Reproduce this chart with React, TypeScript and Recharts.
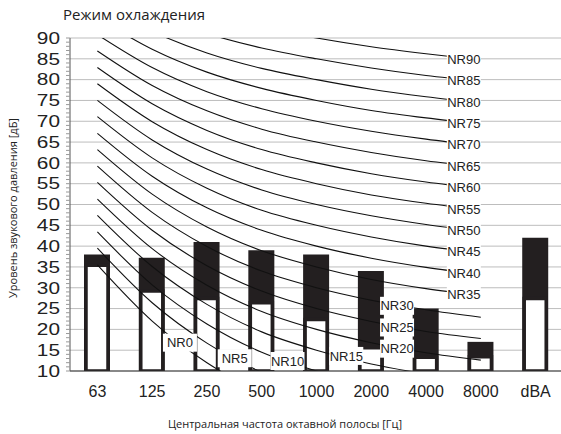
import React from "react";
import { ComposedChart, Bar, Line, XAxis, YAxis, CartesianGrid } from "recharts";

const categories = ["63", "125", "250", "500", "1000", "2000", "4000", "8000", "dBA"];
const totalLevel = [38, 37.2, 41, 39, 38, 34, 25, 17, 42];
const innerLevel = [35.4, 29.2, 27.4, 26.4, 22.4, 15.6, 13.3, 13.4, 27.4];

// NR curves, 63 Hz .. 8000 Hz
const nr0 = [35.5, 22.0, 12.0, 4.8, 0, -3.5, -6.1, -8.0];
const nr5 = [39.5, 26.4, 16.7, 9.7, 5, 1.6, -1.0, -2.9];
const nr10 = [43.4, 30.7, 21.3, 14.5, 10, 6.7, 4.2, 2.3];
const nr15 = [47.4, 35.1, 26.0, 19.4, 15, 11.7, 9.3, 7.5];
const nr20 = [51.3, 39.4, 30.6, 24.3, 20, 16.8, 14.4, 12.6];
const nr25 = [55.3, 43.8, 35.3, 29.2, 25, 21.9, 19.5, 17.8];
const nr30 = [59.2, 48.1, 39.9, 34.0, 30, 27.0, 24.7, 22.9];
const nr35 = [63.2, 52.5, 44.6, 38.9, 35, 32.0, 29.8, 28.1];
const nr40 = [67.1, 56.8, 49.2, 43.8, 40, 37.1, 34.9, 33.2];
const nr45 = [71.1, 61.2, 53.9, 48.6, 45, 42.2, 40.0, 38.4];
const nr50 = [75.0, 65.5, 58.5, 53.5, 50, 47.3, 45.2, 43.5];
const nr55 = [79.0, 69.9, 63.2, 58.4, 55, 52.3, 50.3, 48.7];
const nr60 = [82.9, 74.2, 67.8, 63.2, 60, 57.4, 55.4, 53.8];
const nr65 = [86.9, 78.6, 72.5, 68.1, 65, 62.5, 60.5, 59.0];
const nr70 = [90.8, 82.9, 77.1, 73.0, 70, 67.6, 65.7, 64.1];
const nr75 = [94.8, 87.3, 81.8, 77.9, 75, 72.6, 70.8, 69.3];
const nr80 = [98.7, 91.6, 86.4, 82.7, 80, 77.7, 75.9, 74.4];
const nr85 = [102.7, 96.0, 91.1, 87.6, 85, 82.8, 81.0, 79.6];
const nr90 = [106.6, 100.3, 95.7, 92.5, 90, 87.9, 86.2, 84.7];

const nrNames = ["NR0", "NR5", "NR10", "NR15", "NR20", "NR25", "NR30", "NR35", "NR40", "NR45",
  "NR50", "NR55", "NR60", "NR65", "NR70", "NR75", "NR80", "NR85", "NR90"];
const nrValues = [nr0, nr5, nr10, nr15, nr20, nr25, nr30, nr35, nr40, nr45,
  nr50, nr55, nr60, nr65, nr70, nr75, nr80, nr85, nr90];
// which frequency each curve's label sits at
const nrLabelAt = ["250", "500", "1000", "2000", "4000", "4000", "4000", "8000", "8000", "8000",
  "8000", "8000", "8000", "8000", "8000", "8000", "8000", "8000", "8000"];

const majorTicks = [10, 15, 20, 25, 30, 35, 40, 45, 50, 55, 60, 65, 70, 75, 80, 85, 90];
const minorTicks = Array.from({ length: 81 }, (_, i) => 10 + i);

const data = categories.map((cat, i) => {
  const row: Record<string, any> = { cat, total: totalLevel[i], inner: innerLevel[i] };
  nrNames.forEach((n, k) => {
    row[n] = i < nrValues[k].length ? nrValues[k][i] : null;
  });
  return row;
});

const INK = "#231f20";
const ARIAL = "'Liberation Sans', Arial, sans-serif";
const SANS = "'Open Sans', 'Noto Sans', sans-serif";

// label offset from the anchor point, by anchor frequency
const labelOffset: Record<string, [number, number]> = {
  "250": [-27, -20],
  "500": [-27, -14],
  "1000": [-29, -10],
  "2000": [-25, -8],
  "4000": [-29, -4],
  "8000": [-17, -1],
};

function labelDot(name: string, at: string) {
  return (p: any) => {
    const { cx, cy, index, payload } = p;
    const key = `${name}-lbl-${index}`;
    if (!payload || payload.cat !== at || cx == null || cy == null) return <g key={key} />;
    const [ox, oy] = labelOffset[at];
    const bx = cx + ox;
    const by = cy + oy;
    return (
      <g key={key}>
        <rect x={bx - 17} y={by - 9} width={34} height={18} fill="#fff" />
        <text x={bx} y={by} dy="0.36em" textAnchor="middle" fontSize={13} fontFamily={ARIAL} fill="#222">
          {name}
        </text>
      </g>
    );
  };
}

function LeftTick(p: any) {
  const v = p.payload?.value;
  if (v % 5 !== 0) return <g />;
  // the source draws these digits a bit wide
  return (
    <text
      transform={`translate(${p.x},${p.y}) scale(1.3,1)`}
      dy="0.36em"
      textAnchor="end"
      fontSize={16}
      fontFamily={ARIAL}
      fill="#222"
    >
      {v}
    </text>
  );
}

function BottomTick(p: any) {
  return (
    <text x={p.x} y={p.y + 26} textAnchor="middle" fontSize={16} fontFamily={ARIAL} fill="#222">
      {p.payload?.value}
    </text>
  );
}

export default function App() {
  return (
    <div style={{ position: "relative", width: 561, height: 434, overflow: "hidden" }}>
      <style>{"body{margin:0;overflow:hidden}"}</style>
      <ComposedChart width={563} height={434} data={data} margin={{ top: 38, right: 0, bottom: 0, left: 0 }}>
        <CartesianGrid yAxisId="y" vertical={false} horizontalValues={majorTicks} stroke="#bdbdbd" />
        <XAxis
          xAxisId="x"
          dataKey="cat"
          height={63}
          tickSize={0}
          tickMargin={0}
          tickLine={false}
          axisLine={{ stroke: "#333" }}
          tick={<BottomTick />}
          interval={0}
        />
        <XAxis xAxisId="xb" dataKey="cat" hide />
        <YAxis
          yAxisId="y"
          type="number"
          domain={[10, 90]}
          allowDataOverflow
          ticks={minorTicks}
          interval={0}
          width={70}
          tickSize={4}
          tickMargin={6}
          tickLine={{ stroke: "#999" }}
          axisLine={{ stroke: "#555" }}
          tick={<LeftTick />}
        />
        <YAxis
          yAxisId="r"
          orientation="right"
          mirror
          type="number"
          domain={[10, 90]}
          allowDataOverflow
          ticks={minorTicks}
          interval={0}
          width={1}
          tickSize={3}
          tick={false}
          tickLine={{ stroke: "#c4c4c4" }}
          axisLine={false}
        />
        <Bar xAxisId="xb" yAxisId="y" dataKey="total" fill={INK} barSize={26} isAnimationActive={false} />
        <Bar
          xAxisId="x"
          yAxisId="y"
          dataKey="inner"
          fill="#fff"
          stroke={INK}
          strokeWidth={3.5}
          barSize={22}
          isAnimationActive={false}
        />
        {nrNames.map((n) => (
          <Line
            key={n}
            xAxisId="x"
            yAxisId="y"
            type="monotone"
            dataKey={n}
            stroke="#111"
            strokeWidth={1.1}
            dot={false}
            activeDot={false}
            isAnimationActive={false}
          />
        ))}
        {nrNames.map((n, k) => (
          <Line
            key={`${n}-label`}
            xAxisId="x"
            yAxisId="y"
            type="monotone"
            dataKey={n}
            stroke="none"
            strokeWidth={0}
            dot={labelDot(n, nrLabelAt[k])}
            activeDot={false}
            legendType="none"
            isAnimationActive={false}
          />
        ))}
      </ComposedChart>
      <svg width={561} height={434} style={{ position: "absolute", left: 0, top: 0, pointerEvents: "none" }}>
        <text x={63} y={20} fontSize={15} fontFamily={SANS} fill="#222">
          Режим охлаждения
        </text>
        <text transform="translate(17,208) rotate(-90)" textAnchor="middle" fontSize={11} fontFamily={SANS} fill="#222">
          Уровень звукового давления [дБ]
        </text>
        <text x={285} y={428} textAnchor="middle" fontSize={11} fontFamily={SANS} fill="#222">
          Центральная частота октавной полосы [Гц]
        </text>
      </svg>
    </div>
  );
}
